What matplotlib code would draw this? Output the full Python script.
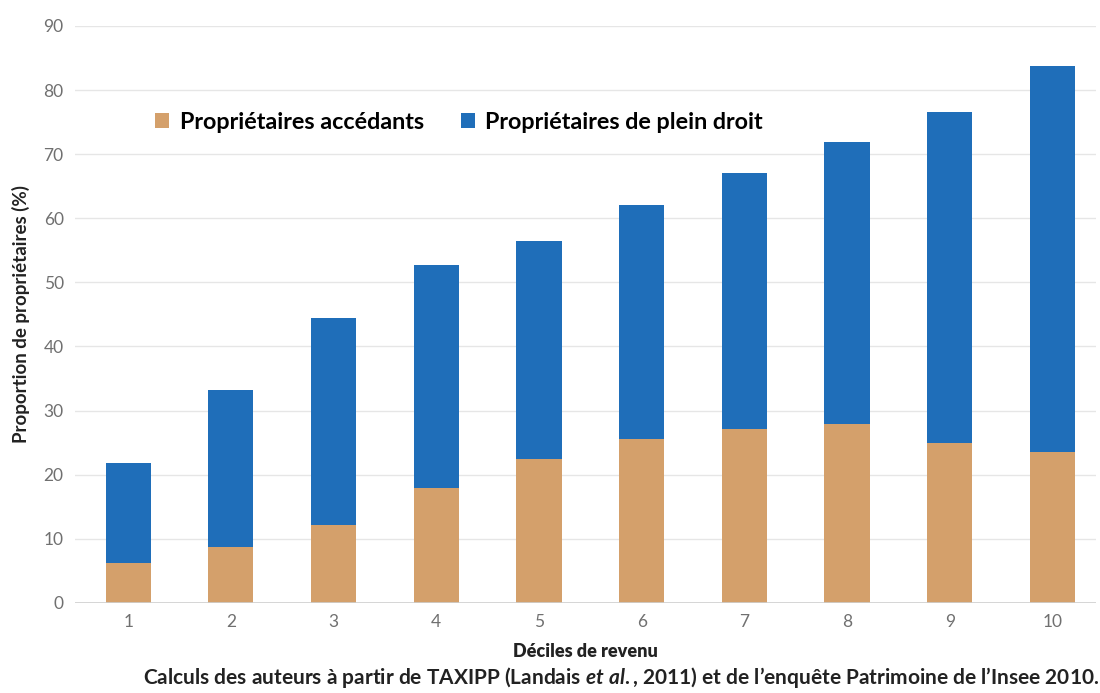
import matplotlib

matplotlib.use("Agg")
import matplotlib.pyplot as plt
import numpy as np
from matplotlib.patches import Patch

plt.rcParams["font.family"] = ["Lato", "DejaVu Sans"]
plt.rcParams["mathtext.fontset"] = "custom"
plt.rcParams["mathtext.it"] = "Lato:italic:bold"
plt.rcParams["mathtext.rm"] = "Lato:bold"

DECILES = ["1", "2", "3", "4", "5", "6", "7", "8", "9", "10"]
ACCEDANTS = [6.2, 8.7, 12.2, 17.9, 22.5, 25.6, 27.1, 27.9, 25.0, 23.6]
TOTAL = [21.8, 33.2, 44.5, 52.7, 56.5, 62.1, 67.1, 71.9, 76.6, 83.8]
PLEIN_DROIT = [t - a for t, a in zip(TOTAL, ACCEDANTS)]
YTICKS = np.arange(0, 91, 10)

TAN = "#d4a06b"
BLUE = "#1f6eb9"

fig = plt.figure(figsize=(11, 6.93), dpi=100, facecolor="white")
ax = fig.add_axes([0.068, 0.130, 0.928, 0.8325])

x = np.arange(1, len(DECILES) + 1)
ax.bar(x, ACCEDANTS, width=0.44, color=TAN, zorder=3)
ax.bar(x, PLEIN_DROIT, width=0.44, bottom=ACCEDANTS, color=BLUE, zorder=3)

ax.set_xlim(0.48, 10.42)
ax.set_ylim(0, 90)
ax.set_yticks(YTICKS)
ax.set_xticks(x)
ax.set_xticklabels(DECILES)
ax.grid(axis="y", color="#e6e6e6", linewidth=1.0, zorder=0)
ax.axhline(0, color="#cfcfcf", linewidth=1.2, zorder=4)
for spine in ax.spines.values():
    spine.set_visible(False)
ax.tick_params(axis="both", length=0, labelsize=12.5, colors="#707070", pad=8)

ax.set_ylabel("Proportion de propriétaires (%)", fontsize=13.5, fontweight="bold",
              color="#222222", labelpad=10)
ax.set_xlabel("Déciles de revenu", fontsize=13, fontweight="heavy", color="#222222", labelpad=9)

handles = [Patch(facecolor=TAN), Patch(facecolor=BLUE)]
ax.legend(handles, ["Propriétaires accédants", "Propriétaires de plein droit"],
          loc="upper left", bbox_to_anchor=(0.058, 0.888), ncol=2, frameon=False,
          handlelength=0.6, handleheight=0.6, handletextpad=0.45,
          columnspacing=1.6, prop={"weight": "bold", "size": 16.8})

fig.text(0.999, 0.004,
         "Calculs des auteurs à partir de TAXIPP (Landais $\\mathit{et\\ al.}$, 2011) et de l’enquête Patrimoine de l’Insee 2010.",
         ha="right", va="bottom", fontsize=15, fontweight="bold", color="#222222")

fig.savefig("out.png", dpi=100, facecolor="white")
